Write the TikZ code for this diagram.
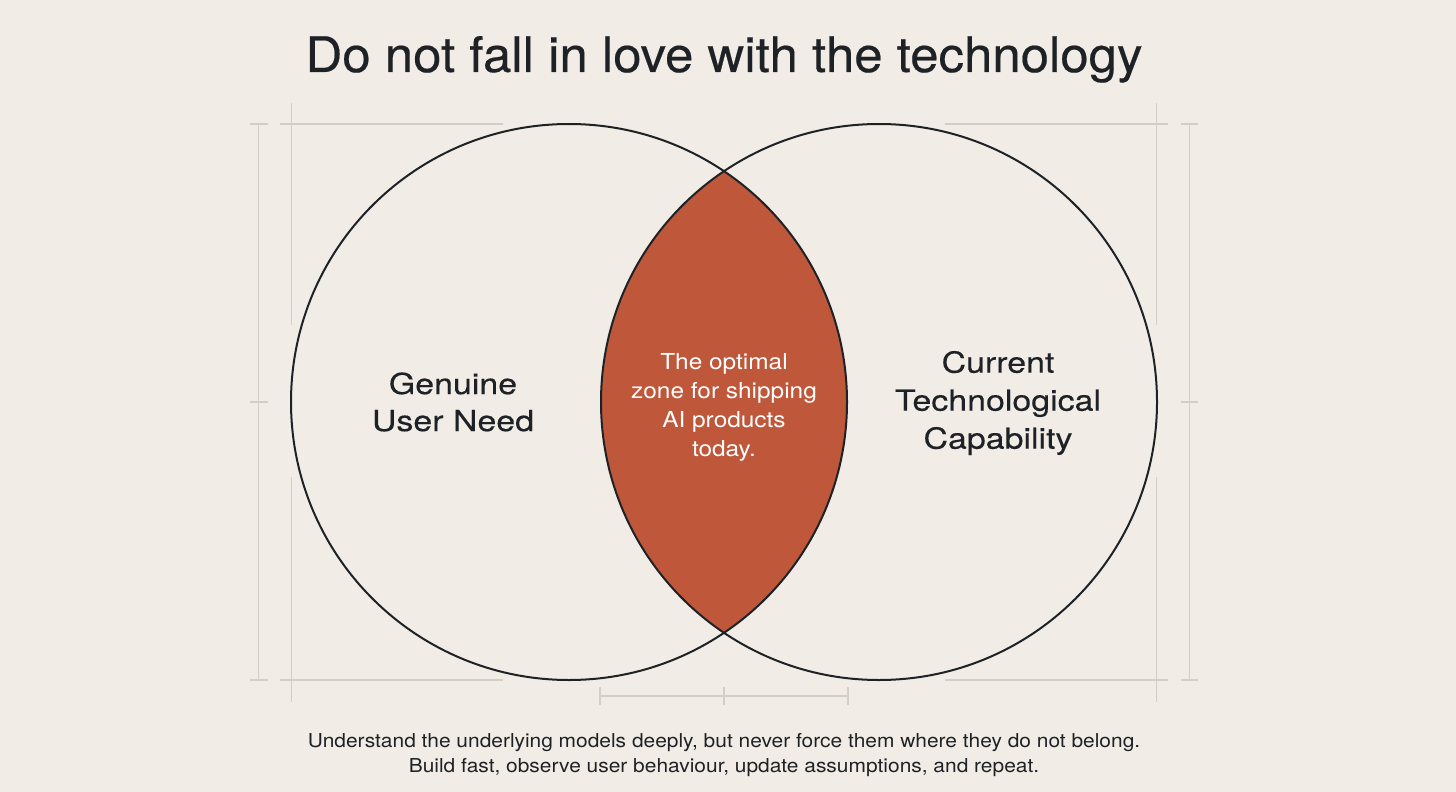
\documentclass[tikz,border=0pt]{standalone}
\usepackage{fontspec}
\setmainfont{TeX Gyre Heros}
\newfontfamily\titlef[FakeStretch=1.04,FakeBold=0.4]{TeX Gyre Heros}
\newfontfamily\labf[FakeStretch=1.17,FakeBold=0.3]{TeX Gyre Heros}
\newfontfamily\zonef[FakeStretch=1.11]{TeX Gyre Heros}
\newfontfamily\footf[FakeStretch=1.09]{TeX Gyre Heros}
\definecolor{bgc}{HTML}{F1EDE6}
\definecolor{lensc}{HTML}{BF573A}
\definecolor{guidec}{HTML}{D3CFC7}
\definecolor{inkc}{HTML}{1E2226}
\tikzset{
  guide/.style={draw=guidec, line width=0.7pt},
  ring/.style={circle, draw=inkc, line width=1pt, minimum size=278pt, inner sep=0pt},
  label/.style={text=inkc, align=center, inner sep=0pt},
}
\begin{document}
\begin{tikzpicture}[x=0.5pt, y=-0.5pt]
\useasboundingbox (0,0) rectangle (1456,792);
\fill[bgc] (0,0) rectangle (1456,792);
% lens
\begin{scope}
  \clip (569,402) circle[radius=139pt];
  \fill[lensc] (879,402) circle[radius=139pt];
\end{scope}
\node[ring] (L) at (569,402) {};
\node[ring] (R) at (879,402) {};
% left guides
\draw[guide] (258.5,124) -- (258.5,680);
\draw[guide] (250,124) -- (268,124);
\draw[guide] (250,402) -- (268,402);
\draw[guide] (250,680) -- (268,680);
\draw[guide] (291.5,103) -- (291.5,325);
\draw[guide] (291.5,477) -- (291.5,702);
\draw[guide] (280,124) -- (503,124);
\draw[guide] (280,680) -- (503,680);
% right guides
\draw[guide] (1189.5,124) -- (1189.5,680);
\draw[guide] (1181,124) -- (1198,124);
\draw[guide] (1181,402) -- (1198,402);
\draw[guide] (1181,680) -- (1198,680);
\draw[guide] (1156.5,103) -- (1156.5,325);
\draw[guide] (1156.5,477) -- (1156.5,702);
\draw[guide] (945,124) -- (1168,124);
\draw[guide] (945,680) -- (1168,680);
% bottom guide
\draw[guide] (600,696) -- (848,696);
\draw[guide] (600,687) -- (600,705);
\draw[guide] (724,687) -- (724,705);
\draw[guide] (848,687) -- (848,705);
% texts
\node[label, anchor=base, font=\titlef\fontsize{24.5}{29}\selectfont] (title) at (724,72) {Do not fall in love with the technology};
\node[label, font=\labf\fontsize{14.5}{18.5}\selectfont] (need) at (453,402) {Genuine\\User Need};
\node[label, font=\labf\fontsize{14.5}{19}\selectfont] (cap) at (998,403) {Current\\Technological\\Capability};
\node[label, text=white, font=\zonef\fontsize{11}{14.5}\selectfont] (zone) at (724,407) {The optimal\\zone for shipping\\AI products\\today.};
\node[label, font=\footf\fontsize{9.6}{12.5}\selectfont] (foot) at (724,755) {Understand the underlying models deeply, but never force them where they do not belong.\\Build fast, observe user behaviour, update assumptions, and repeat.};
\end{tikzpicture}
\end{document}
